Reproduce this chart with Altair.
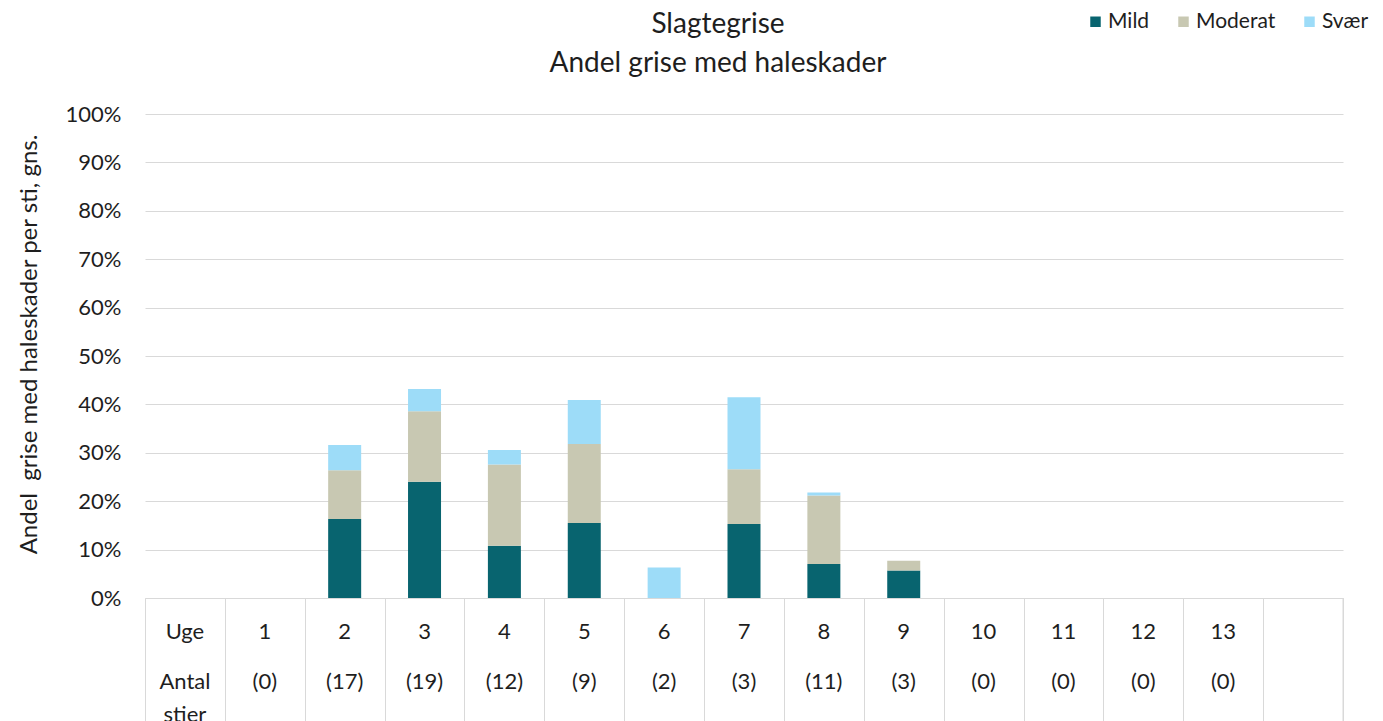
import altair as alt
import pandas as pd

# ---- data ----
categories = ["Uge", "1", "2", "3", "4", "5", "6", "7", "8", "9", "10", "11", "12", "13", " "]
weeks = ["1", "2", "3", "4", "5", "6", "7", "8", "9", "10", "11", "12", "13"]
counts = [0, 17, 19, 12, 9, 2, 3, 11, 3, 0, 0, 0, 0]
mild = [0, 16.3, 24.0, 10.8, 15.5, 0, 15.3, 7.0, 5.7, 0, 0, 0, 0]
moderat = [0, 10.1, 14.6, 16.8, 16.3, 0, 11.3, 14.2, 2.0, 0, 0, 0, 0]
svaer = [0, 5.2, 4.6, 3.0, 9.1, 6.3, 14.9, 0.6, 0, 0, 0, 0, 0]
series = ["Mild", "Moderat", "Svær"]
colors = ["#08646f", "#c8c8b2", "#9ddcf8"]
title_lines = ["Slagtegrise", "Andel grise med haleskader"]
y_title = "Andel\u00a0 grise med haleskader per sti, gns."
row1_head, row2_head, row3_head = "Uge", "Antal", "stier"

FONT = "Lato"
TXT = "#1e1e1e"
LINE = "#d9d9d9"

rows = []
for i, w in enumerate(weeks):
    for s, vals in zip(series, [mild, moderat, svaer]):
        rows.append({"cat": w, "serie": s, "order": series.index(s), "value": vals[i] / 100})
bars_df = pd.DataFrame(rows)

table_df = pd.DataFrame({
    "cat": categories,
    "r1": [row1_head] + weeks + [""],
    "r2": [row2_head] + [f"({c})" for c in counts] + [""],
    "r3": [row3_head] + [""] * len(weeks) + [""],
})
edge_df = pd.DataFrame({"cat": [categories[-1]]})

W, H = 1198, 484

x_enc = alt.X(
    "cat:N",
    sort=categories,
    scale=alt.Scale(domain=categories, paddingInner=0, paddingOuter=0),
    axis=alt.Axis(labels=False, title=None, ticks=True, tickBand="extent",
                  tickSize=130, tickColor=LINE, tickWidth=1,
                  domainColor=LINE, domainWidth=1),
)

bars = alt.Chart(bars_df).mark_bar(size=33).encode(
    x=x_enc,
    y=alt.Y("value:Q", stack="zero",
            scale=alt.Scale(domain=[0, 1], nice=False),
            axis=alt.Axis(format="%", values=[i / 10 for i in range(11)],
                          title=y_title, grid=True, gridColor=LINE,
                          domain=False, ticks=False, labelPadding=24,
                          labelFontSize=22, labelFont=FONT, labelColor=TXT,
                          titleFontSize=24, titleFont=FONT, titleFontWeight="normal",
                          titleColor=TXT, titleX=-116, titleY=230,
                          titleBaseline="middle", titleAngle=-90)),
    color=alt.Color("serie:N",
                    scale=alt.Scale(domain=series, range=colors),
                    legend=alt.Legend(orient="none", legendX=940, legendY=-103,
                                      direction="horizontal", title=None,
                                      symbolType="square", symbolSize=110,
                                      symbolStrokeWidth=0,
                                      labelFontSize=21, labelFont=FONT,
                                      labelColor=TXT, columnPadding=23,
                                      labelOffset=2)),
    order=alt.Order("order:Q"),
)

edge = alt.Chart(edge_df).mark_rule(color=LINE, strokeWidth=1).encode(
    x=alt.X("cat:N", sort=categories, bandPosition=1),
    y=alt.value(H), y2=alt.value(H + 130),
)

def text_row(field, ypos):
    return alt.Chart(table_df).mark_text(
        fontSize=22, font=FONT, color=TXT, baseline="middle", align="center"
    ).encode(x=alt.X("cat:N", sort=categories), y=alt.value(ypos), text=f"{field}:N")

chart = alt.layer(
    bars,
    edge,
    text_row("r1", 518),
    text_row("r2", 568),
    text_row("r3", 601),
).properties(
    width=W, height=H,
    title=alt.TitleParams(title_lines, fontSize=28, font=FONT, fontWeight="normal",
                          color=TXT, anchor="middle", dx=-26, dy=71, lineHeight=39),
    autosize=alt.AutoSizeParams(type="none"),
    padding={"left": 137, "top": 106, "right": 32, "bottom": 123},
).configure_view(stroke=None)

chart.save("out.html", embed_options={"renderer": "svg", "actions": False})
